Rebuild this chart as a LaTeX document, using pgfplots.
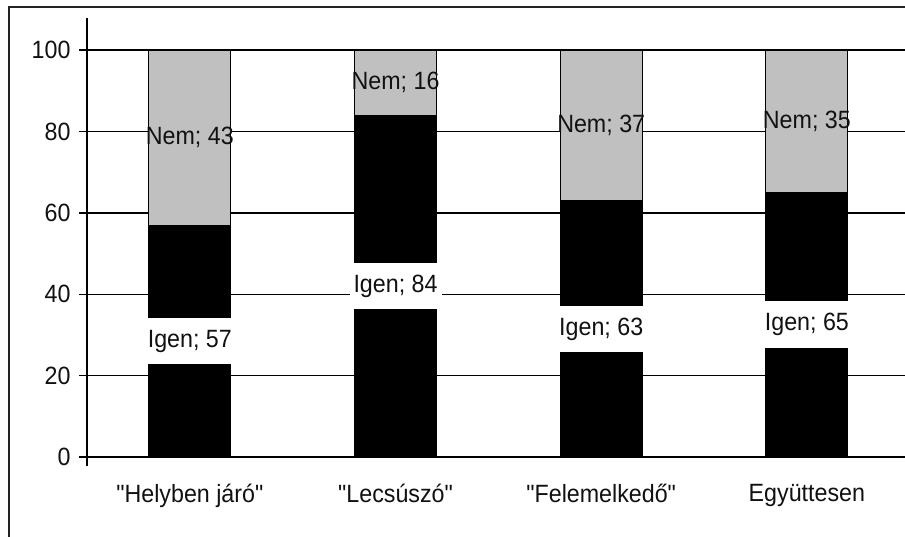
\documentclass[border=0pt]{standalone}
\usepackage{pgfplots}
\usepackage{pgfplotstable}
\pgfplotsset{compat=1.18}
\usepackage{fontspec}
\setmainfont{Liberation Sans}[FakeStretch=0.93]
\newfontfamily\qfont{Liberation Sans}[FakeStretch=0.93]
\newcommand\q{{\qfont\symbol{34}}}
\definecolor{bargray}{HTML}{C0C0C0}
\definecolor{framec}{HTML}{222222}
\definecolor{txt}{HTML}{111111}
\pgfplotstableread[col sep=comma]{
x,igen,nem,igenc,nemc
0,57,43,28.5,78.5
1,84,16,42,92
2,63,37,31.5,81.5
3,65,35,32.5,82.5
}\datatable
\pgfplotsset{
  common/.style={
    at={(87pt,70pt)}, anchor=south west,
    scale only axis, width=818pt, height=448pt,
    xmin=-0.5, xmax=3.477, ymin=-2.2, ymax=107.9,
    clip=false,
  }
}
\begin{document}
\begin{tikzpicture}[font=\fontsize{25}{28}\selectfont]
\useasboundingbox (0,0) rectangle (905pt,536pt);
\draw[framec, line width=1.5pt] (9pt,-10pt) -- (9pt,529pt) -- (920pt,529pt);
\begin{axis}[common,
  ybar stacked, bar width=82pt,
  axis line style={draw=none},
  xtick={0,1,2,3},
  xticklabels={\q Helyben járó\q, \q Lecsúszó\q, \q Felemelkedő\q, Együttesen},
  x tick style={draw=none},
  x tick label style={anchor=north, yshift=-7pt, text=txt},
  ytick={0,20,40,60,80,100}, ytick pos=left, tick align=outside,
  major tick length=8pt,
  y tick style={black, line width=1.3pt},
  ymajorgrids, grid style={black, line width=1.3pt},
  /pgf/number format/assume math mode=true,
  y tick label style={xshift=-5pt, text=txt},
]
\addplot[fill=black, draw=black, line width=1pt] table[x=x, y=igen] {\datatable};
\addplot[fill=bargray, draw=black, line width=1.2pt] table[x=x, y=nem] {\datatable};
\draw[black, line width=1.5pt] (axis cs:-0.5,-2.2) -- (axis cs:-0.5,107.9);
\draw[black, line width=1.6pt] (axis cs:-0.5,0) -- (axis cs:3.6,0);
\end{axis}
\begin{axis}[common, hide axis]
\addplot[draw=none, mark=none, nodes near coords={Igen; \pgfplotspointmeta}, point meta=explicit symbolic,
  every node near coord/.append style={anchor=center, fill=white, inner xsep=4pt, inner ysep=12pt, text=txt}]
  table[x=x, y=igenc, meta=igen] {\datatable};
\addplot[draw=none, mark=none, nodes near coords={Nem; \pgfplotspointmeta}, point meta=explicit symbolic,
  every node near coord/.append style={anchor=center, text=txt}]
  table[x=x, y=nemc, meta=nem] {\datatable};
\end{axis}
\end{tikzpicture}
\end{document}
